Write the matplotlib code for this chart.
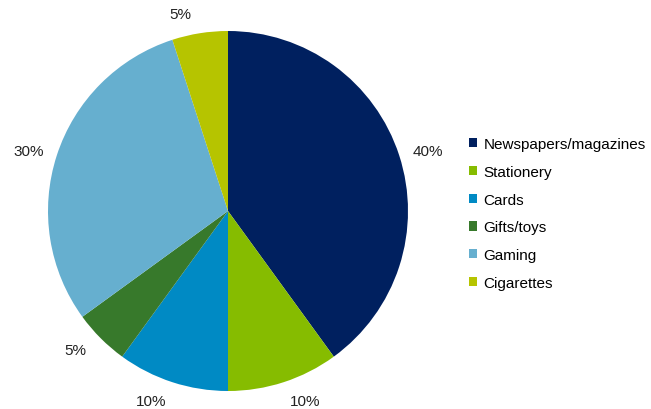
import matplotlib
matplotlib.use("Agg")
import numpy as np
import matplotlib.pyplot as plt
from matplotlib.patches import Patch

plt.rcParams['font.family'] = ['Liberation Sans', 'DejaVu Sans']

categories = ["Newspapers/magazines", "Stationery", "Cards", "Gifts/toys", "Gaming", "Cigarettes"]
values = [40, 10, 10, 5, 30, 5]
pct_labels = ["40%", "10%", "10%", "5%", "30%", "5%"]
colors = ["#00205F", "#86BC00", "#008AC4", "#37792B", "#66AFCF", "#B6C400"]

W, H = 651, 410
fig = plt.figure(figsize=(W / 100, H / 100), dpi=100)
cx, cy, r = 228, 212, 180
ax = fig.add_axes([(cx - r) / W, (H - cy - r) / H, 2 * r / W, 2 * r / H])

wedges, _ = ax.pie(values, colors=colors, startangle=90, counterclock=False,
                   wedgeprops=dict(linewidth=0))
ax.set_xlim(-1, 1)
ax.set_ylim(-1, 1)
ax.set_aspect('equal')
ax.axis('off')

for w, lab in zip(wedges, pct_labels):
    th = np.deg2rad((w.theta1 + w.theta2) / 2)
    c, s = np.cos(th), np.sin(th)
    x = c * 1.06 + 0.10 * np.sign(c)
    y = s * 1.06 + 0.05 * s * abs(s)
    ax.text(x, y, lab, ha='center', va='center', fontsize=11, color="#222222")

handles = [Patch(facecolor=c, edgecolor='none') for c in colors]
fig.legend(handles, categories, loc='center left', bbox_to_anchor=(469 / W, (H - 214.5) / H),
           frameon=False, fontsize=11, handlelength=0.55, handleheight=0.55,
           handletextpad=0.4, labelspacing=0.9, borderaxespad=0, borderpad=0)

fig.savefig("out.png", dpi=100)
